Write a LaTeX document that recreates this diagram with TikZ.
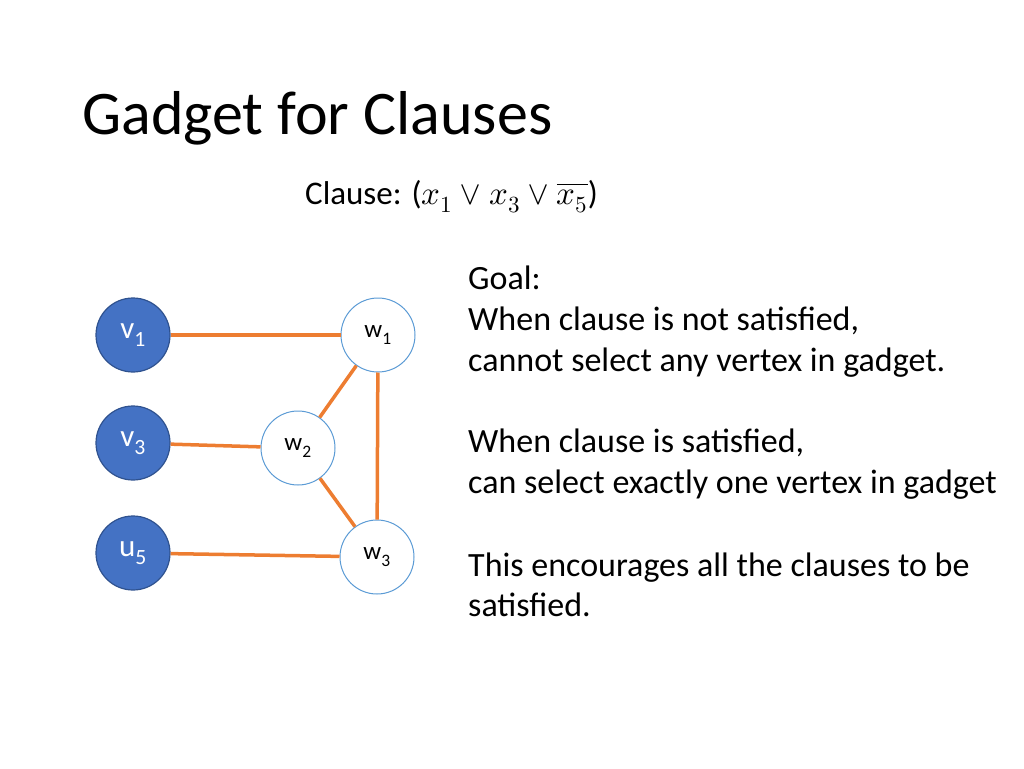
\documentclass[tikz,border=0pt]{standalone}
\usepackage{fontspec}
\usepackage{unicode-math}
\setmainfont{Carlito}
\setmathfont{Latin Modern Math}
\begin{document}
\begin{tikzpicture}[x=1pt,y=-1pt,
  blue node/.style={circle,minimum size=74pt,inner sep=0pt,fill={rgb,255:red,68;green,114;blue,196},draw={rgb,255:red,47;green,82;blue,143},line width=1.2pt,text=white,font=\fontsize{31}{33}\selectfont},
  white node/.style={circle,minimum size=74pt,inner sep=0pt,fill=white,draw={rgb,255:red,91;green,155;blue,213},line width=1pt,text=black,font=\fontsize{25}{27}\selectfont},
  edge/.style={draw={rgb,255:red,237;green,125;blue,49},line width=3.5pt},
  body/.style={anchor=base west,inner sep=0pt,font=\fontsize{34}{36}\selectfont}]
\useasboundingbox (0,0) rectangle (1024,768);
\node[anchor=base west,inner sep=0pt,font=\fontsize{62}{66}\selectfont] (title) at (82,134) {Gadget for Clauses};
\node[anchor=base west,inner sep=0pt,font=\fontsize{33}{36}\selectfont] (clause) at (305,204) {Clause: ($x_1\vee x_3\vee \overline{x_5}$)};
\node[blue node] (v1) at (133,335) {v\textsubscript{1}};
\node[blue node] (v3) at (133,443) {v\textsubscript{3}};
\node[blue node] (u5) at (133,553) {u\textsubscript{5}};
\node[white node] (w1) at (378,335) {w\textsubscript{1}};
\node[white node] (w2) at (298,448) {w\textsubscript{2}};
\node[white node] (w3) at (377,557) {w\textsubscript{3}};
\draw[edge] (v1) -- (w1);
\draw[edge] (v3) -- (w2);
\draw[edge] (u5) -- (w3);
\draw[edge] (w1) -- (w2);
\draw[edge] (w2) -- (w3);
\draw[edge] (w1) -- (w3);
\node[body] (t1) at (468,289) {Goal:};
\node[body] (t2) at (468,330) {When clause is not satisfied,};
\node[body] (t3) at (468,371) {cannot select any vertex in gadget.};
\node[body] (t4) at (468,452) {When clause is satisfied,};
\node[body] (t5) at (468,493) {can select exactly one vertex in gadget};
\node[body] (t6) at (468,576) {This encourages all the clauses to be};
\node[body] (t7) at (468,616) {satisfied.};
\end{tikzpicture}
\end{document}
